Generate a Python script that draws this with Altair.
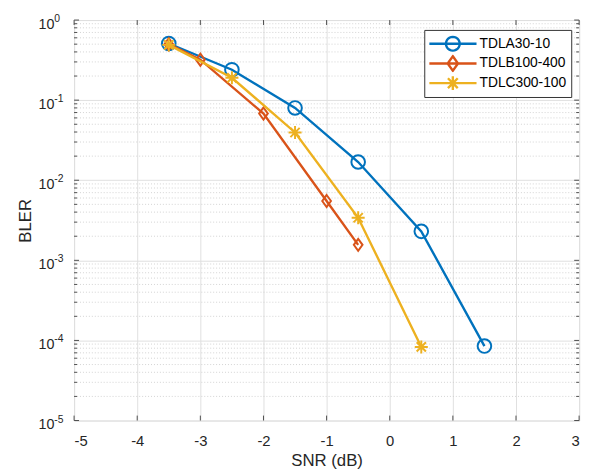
import math
import altair as alt
import pandas as pd

# ---- data ----
series = ["TDLA30-10", "TDLB100-400", "TDLC300-100"]
snr_a = [-3.5, -2.5, -1.5, -0.5, 0.5, 1.5]
bler_a = [0.51, 0.24, 0.080, 0.0169, 0.0023, 8.5e-5]
snr_b = [-3.5, -3.0, -2.0, -1.0, -0.5]
bler_b = [0.50, 0.32, 0.068, 0.0055, 0.00156]
snr_c = [-3.5, -2.5, -1.5, -0.5, 0.5]
bler_c = [0.49, 0.19, 0.0395, 0.0034, 8.3e-5]
colors = ["#0072BD", "#D95319", "#EDB120"]

x_ticks = [-5, -4, -3, -2, -1, 0, 1, 2, 3]
y_exps = [0, -1, -2, -3, -4, -5]
y_major = [10.0 ** e for e in y_exps]
y_minor = [m * 10.0 ** e for e in range(-5, 0) for m in range(2, 10)]

W, H = 512, 406
FONT = "Liberation Sans"
TXT = "#262626"
LW = 2.4


def poly_circle(cx, r, n=24):
    pts = [(cx + r * math.cos(2 * math.pi * k / n), r * math.sin(2 * math.pi * k / n)) for k in range(n)]
    return "M" + "L".join(f"{x:.3f},{y:.3f}" for x, y in pts) + "Z"


# marker shapes (plot) and legend symbols (line + marker)
plot_shapes = [
    "circle",
    "M0,-1L0.72,0L0,1L-0.72,0Z",
    "M-1,0L1,0M0,-1L0,1M-0.71,-0.71L0.71,0.71M-0.71,0.71L0.71,-0.71",
]
plot_sizes = [190, 150, 175]
C = 2.21  # marker centre in legend symbol units (1 unit = 7 px)
LINE = "M-1.21,0L5.64,0"
legend_paths = [
    LINE + poly_circle(C, 1.0),
    LINE + f"M{C},-1.05L{C + 0.75},0L{C},1.05L{C - 0.75},0Z",
    LINE + f"M{C - 1},0L{C + 1},0M{C},-1L{C},1M{C - 0.71},-0.71L{C + 0.71},0.71M{C - 0.71},0.71L{C + 0.71},-0.71",
]

snrs = [snr_a, snr_b, snr_c]
blers = [bler_a, bler_b, bler_c]

# ---- base layer carrying the axes (major grid) ----
df_ax = pd.DataFrame({"x": x_ticks[:6], "y": y_major})
base = alt.Chart(df_ax).mark_point(opacity=0).encode(
    x=alt.X("x:Q", scale=alt.Scale(domain=[-5, 3], nice=False, zero=False), axis=alt.Axis(
        values=x_ticks, title="SNR (dB)", grid=True, ticks=False, domain=False,
        labelExpr="datum.value < 0 ? '-' + abs(datum.value) : '' + datum.value",
        labelFontSize=15, labelPadding=13, labelColor=TXT, labelFont=FONT,
        titleFontSize=17, titleFontWeight="normal", titleColor=TXT, titleFont=FONT,
        titlePadding=5, gridColor="#dfdfdf", gridWidth=1)),
    y=alt.Y("y:Q", scale=alt.Scale(type="log", domain=[1e-5, 1], nice=False), axis=alt.Axis(
        values=y_major, title="BLER", grid=True, ticks=False, domain=False,
        labels=False, titleFontSize=17, titleFontWeight="normal", titleColor=TXT,
        titleFont=FONT, titlePadding=40, gridColor="#dfdfdf", gridWidth=1)),
)

layers = [base]

# minor grid (dotted)
df_minor = pd.DataFrame({"y": y_minor})
layers.append(alt.Chart(df_minor).mark_rule(color="#c9c9c9", strokeDash=[1, 2], strokeWidth=0.8).encode(
    y="y:Q", x=alt.value(0), x2=alt.value(W)))

# data lines and markers
for i, name in enumerate(series):
    df = pd.DataFrame({"x": snrs[i], "y": blers[i]})
    layers.append(alt.Chart(df).mark_line(color=colors[i], strokeWidth=LW).encode(x="x:Q", y="y:Q"))
    layers.append(alt.Chart(df).mark_point(
        color=colors[i], shape=plot_shapes[i], size=plot_sizes[i], filled=False,
        strokeWidth=2, opacity=1).encode(x="x:Q", y="y:Q"))

# inward ticks
tick_col = "#4d4d4d"
df_xt = pd.DataFrame({"x": x_ticks})
layers.append(alt.Chart(df_xt).mark_rule(color=tick_col, strokeWidth=1).encode(
    x="x:Q", y=alt.value(H), y2=alt.value(H - 5)))
layers.append(alt.Chart(df_xt).mark_rule(color=tick_col, strokeWidth=1).encode(
    x="x:Q", y=alt.value(0), y2=alt.value(5)))
df_yt = pd.DataFrame({"y": y_major})
layers.append(alt.Chart(df_yt).mark_rule(color=tick_col, strokeWidth=1).encode(
    y="y:Q", x=alt.value(0), x2=alt.value(5)))
layers.append(alt.Chart(df_yt).mark_rule(color=tick_col, strokeWidth=1).encode(
    y="y:Q", x=alt.value(W - 5), x2=alt.value(W)))
layers.append(alt.Chart(df_minor).mark_rule(color=tick_col, strokeWidth=1).encode(
    y="y:Q", x=alt.value(0), x2=alt.value(3)))
layers.append(alt.Chart(df_minor).mark_rule(color=tick_col, strokeWidth=1).encode(
    y="y:Q", x=alt.value(W - 3), x2=alt.value(W)))

# y tick labels 10^e
df_yl = pd.DataFrame({"y": y_major, "base": ["10"] * len(y_exps), "exp": [str(e) for e in y_exps]})
layers.append(alt.Chart(df_yl).mark_text(align="right", baseline="middle", dy=5, fontSize=14.5,
                                         font=FONT, color=TXT).encode(
    y="y:Q", x=alt.value(-20), text="base:N"))
layers.append(alt.Chart(df_yl).mark_text(align="left", baseline="middle", dy=-1, fontSize=10.5,
                                         font=FONT, color=TXT).encode(
    y="y:Q", x=alt.value(-20), text="exp:N"))

# legend layer (invisible marks, legend only)
df_leg = pd.DataFrame({"series": series, "x": [s[0] for s in snrs], "y": [b[0] for b in blers]})
leg = alt.Legend(title=None, orient="none", legendX=355, legendY=10, padding=5,
                 strokeColor="#333333", fillColor="white", labelFontSize=14, labelFont=FONT,
                 labelColor="#000000", labelOffset=34, rowPadding=2, clipHeight=18, symbolSize=196,
                 symbolStrokeWidth=LW, symbolOpacity=1, cornerRadius=0)
layers.append(alt.Chart(df_leg).mark_point(opacity=0, filled=False, size=196, strokeWidth=LW).encode(
    x="x:Q", y="y:Q",
    color=alt.Color("series:N", scale=alt.Scale(domain=series, range=colors), legend=leg, sort=series),
    shape=alt.Shape("series:N", scale=alt.Scale(domain=series, range=legend_paths), legend=leg, sort=series),
))

chart = alt.layer(*layers).properties(
    width=W, height=H,
    autosize=alt.AutoSizeParams(type="none"),
    padding={"left": 67, "top": 9, "right": 9, "bottom": 52},
    background="white",
).configure_view(stroke="#4d4d4d", strokeWidth=1).configure(font=FONT)

chart.save("out.html", embed_options={"renderer": "svg", "actions": False})
